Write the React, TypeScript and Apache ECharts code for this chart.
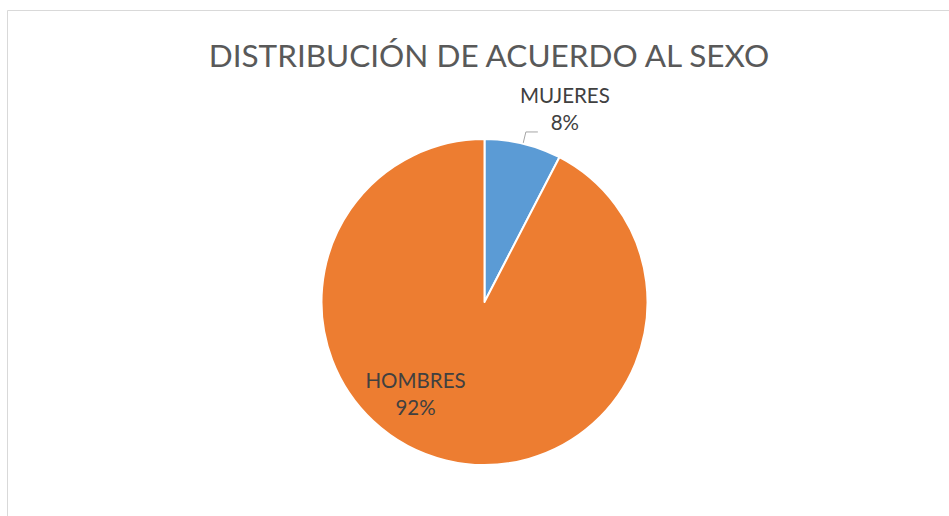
import React, { useEffect, useRef } from "react";
import * as echarts from "echarts";

const TITLE = "DISTRIBUCIÓN DE ACUERDO AL SEXO";
const categories = ["MUJERES", "HOMBRES"];
const values = [7.6, 92.4];
const colors = ["#5B9BD5", "#ED7D31"];

export default function App() {
  const ref = useRef<HTMLDivElement>(null);
  useEffect(() => {
    if (!ref.current) return;
    const chart = echarts.init(ref.current, null, { renderer: "svg" });
    chart.setOption({
      animation: false,
      backgroundColor: "#ffffff",
      title: {
        text: TITLE,
        left: 484,
        textAlign: "center",
        top: 34,
        textStyle: {
          fontFamily: "Lato",
          fontSize: 31.5,
          fontWeight: "normal",
          color: "#595959",
        },
      },
      graphic: [
        {
          type: "rect",
          shape: { x: 7.5, y: 10.5, width: 1000, height: 600 },
          style: { fill: "none", stroke: "#d9d9d9", lineWidth: 1 },
          silent: true,
        },
      ],
      series: [
        {
          type: "pie",
          center: [484.5, 302],
          radius: 163,
          startAngle: 90,
          clockwise: true,
          itemStyle: { borderColor: "#ffffff", borderWidth: 2 },
          label: {
            fontFamily: "Lato",
            fontSize: 20.5,
            color: "#404040",
            lineHeight: 27,
            formatter: (p: any) => `${p.name}\n${Math.round(p.percent)}%`,
          },
          labelLine: {
            lineStyle: { color: "#a6a6a6", width: 1 },
          },
          labelLayout: (p: any) => {
            if (p.dataIndex === 1) {
              return { dx: -49, dy: 9, align: "center" };
            }
            return { dx: 22, dy: -23, align: "center" };
          },
          data: categories.map((name, i) => ({
            name,
            value: values[i],
            itemStyle: { color: colors[i] },
            label:
              i === 0
                ? { position: "outside", align: "center" }
                : { position: "inside", align: "center" },
            labelLine: i === 0 ? { show: true, length: 12, length2: 12 } : { show: false },
          })),
        },
      ],
    });
    return () => chart.dispose();
  }, []);
  return (
    <div
      ref={ref}
      style={{ position: "fixed", left: 0, top: 0, width: 949, height: 516 }}
    />
  );
}
